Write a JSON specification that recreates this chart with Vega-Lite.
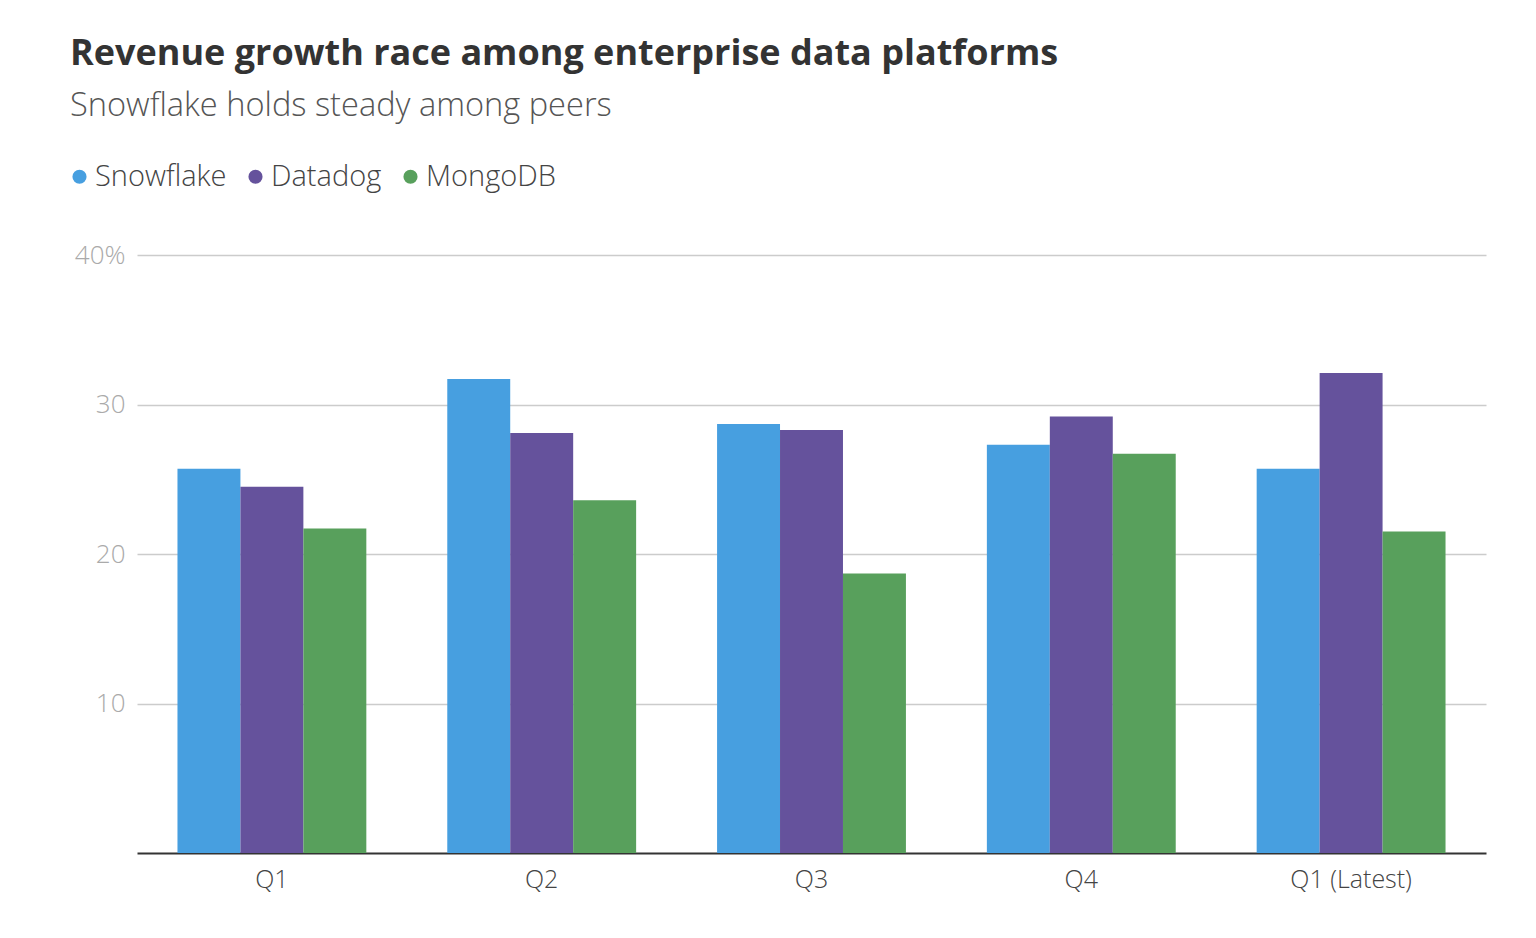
{
  "$schema": "https://vega.github.io/schema/vega-lite/v6.json",
  "autosize": {"type": "none"},
  "width": 1349,
  "height": 598,
  "padding": {"left": 137, "top": 255, "right": 50, "bottom": 85},
  "background": "white",
  "title": {
    "text": "Revenue growth race among enterprise data platforms",
    "subtitle": "Snowflake holds steady among peers",
    "anchor": "start",
    "dx": 5,
    "offset": 38,
    "font": "Open Sans",
    "fontSize": 36,
    "fontWeight": "bold",
    "color": "#333333",
    "subtitleFont": "Open Sans",
    "subtitleFontSize": 32.6,
    "subtitleFontWeight": 300,
    "subtitleColor": "#555555",
    "subtitlePadding": 17
  },
  "data": {
    "values": [
      {"quarter": "Q1", "company": "Snowflake", "growth": 25.7},
      {"quarter": "Q1", "company": "Datadog", "growth": 24.5},
      {"quarter": "Q1", "company": "MongoDB", "growth": 21.7},
      {"quarter": "Q2", "company": "Snowflake", "growth": 31.7},
      {"quarter": "Q2", "company": "Datadog", "growth": 28.1},
      {"quarter": "Q2", "company": "MongoDB", "growth": 23.6},
      {"quarter": "Q3", "company": "Snowflake", "growth": 28.7},
      {"quarter": "Q3", "company": "Datadog", "growth": 28.3},
      {"quarter": "Q3", "company": "MongoDB", "growth": 18.7},
      {"quarter": "Q4", "company": "Snowflake", "growth": 27.3},
      {"quarter": "Q4", "company": "Datadog", "growth": 29.2},
      {"quarter": "Q4", "company": "MongoDB", "growth": 26.7},
      {"quarter": "Q1 (Latest)", "company": "Snowflake", "growth": 25.7},
      {"quarter": "Q1 (Latest)", "company": "Datadog", "growth": 32.1},
      {"quarter": "Q1 (Latest)", "company": "MongoDB", "growth": 21.5}
    ]
  },
  "mark": {"type": "bar"},
  "encoding": {
    "x": {
      "field": "quarter",
      "type": "nominal",
      "sort": ["Q1", "Q2", "Q3", "Q4", "Q1 (Latest)"],
      "scale": {"paddingInner": 0.3, "paddingOuter": 0.15},
      "axis": {
        "title": null,
        "labelAngle": 0,
        "labelFont": "Open Sans",
        "labelFontSize": 25,
        "labelFontWeight": 300,
        "labelColor": "#444444",
        "labelPadding": 14,
        "ticks": false,
        "domainColor": "#333333",
        "domainWidth": 2,
        "grid": false
      }
    },
    "xOffset": {
      "field": "company",
      "type": "nominal",
      "sort": ["Snowflake", "Datadog", "MongoDB"],
      "scale": {"paddingInner": 0, "paddingOuter": 0}
    },
    "y": {
      "field": "growth",
      "type": "quantitative",
      "scale": {"domain": [0, 40]},
      "axis": {
        "title": null,
        "values": [10, 20, 30, 40],
        "labelExpr": "datum.value == 40 ? '40%' : datum.label",
        "labelFont": "Open Sans",
        "labelFontSize": 26,
        "labelFontWeight": 300,
        "labelColor": "#aaaaaa",
        "labelPadding": 12,
        "ticks": false,
        "domain": false,
        "gridColor": "#cccccc",
        "gridWidth": 1.5
      }
    },
    "color": {
      "field": "company",
      "type": "nominal",
      "sort": ["Snowflake", "Datadog", "MongoDB"],
      "scale": {
        "domain": ["Snowflake", "Datadog", "MongoDB"],
        "range": ["#479fe0", "#65529c", "#58a05c"]
      },
      "legend": {
        "title": null,
        "orient": "none",
        "direction": "horizontal",
        "legendX": -72,
        "legendY": -93,
        "symbolType": "circle",
        "symbolSize": 200,
        "symbolOpacity": 1,
        "symbolStrokeWidth": 0,
        "labelFont": "Open Sans",
        "labelFontSize": 29,
        "labelFontWeight": 300,
        "labelColor": "#444444",
        "labelOffset": 1,
        "columnPadding": 14
      }
    }
  },
  "config": {
    "view": {"stroke": null}
  }
}
